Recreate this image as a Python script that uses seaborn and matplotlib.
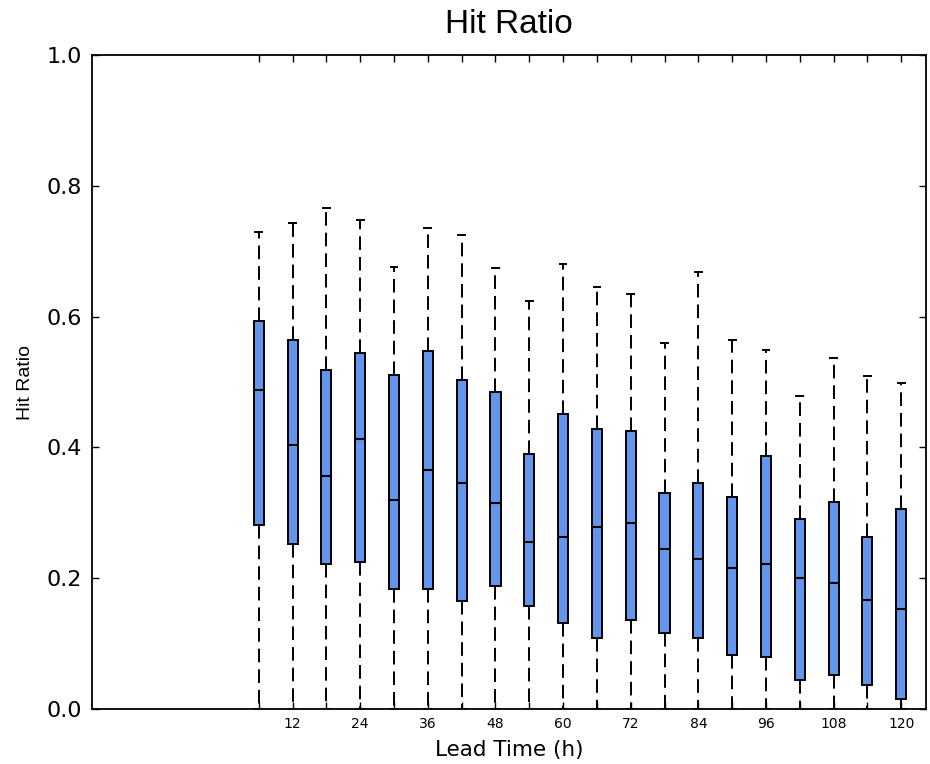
import pandas as pd
import seaborn as sns
import matplotlib.pyplot as plt

# values
lead_time = [6, 12, 18, 24, 30, 36, 42, 48, 54, 60, 66, 72, 78, 84, 90, 96, 102, 108, 114, 120]
whisker_hi = [0.729, 0.743, 0.766, 0.747, 0.676, 0.736, 0.725, 0.675, 0.624, 0.680,
              0.646, 0.635, 0.560, 0.668, 0.564, 0.549, 0.479, 0.536, 0.509, 0.499]
q3 = [0.593, 0.564, 0.518, 0.545, 0.511, 0.548, 0.503, 0.484, 0.390, 0.451,
      0.428, 0.425, 0.330, 0.346, 0.324, 0.387, 0.290, 0.317, 0.263, 0.306]
median = [0.488, 0.403, 0.357, 0.413, 0.320, 0.365, 0.346, 0.315, 0.255, 0.263,
          0.279, 0.285, 0.244, 0.229, 0.215, 0.222, 0.200, 0.193, 0.166, 0.153]
q1 = [0.282, 0.252, 0.222, 0.225, 0.184, 0.184, 0.165, 0.188, 0.157, 0.131,
      0.109, 0.136, 0.116, 0.109, 0.082, 0.079, 0.045, 0.052, 0.037, 0.015]
whisker_lo = [0.0] * 20

# five points per lead time give exactly these quartiles / whisker ends
rows = []
for i, lt in enumerate(lead_time):
    for v in (whisker_lo[i], q1[i], median[i], q3[i], whisker_hi[i]):
        rows.append({"lead": lt, "hit": v})
df = pd.DataFrame(rows)

plt.rcParams["font.family"] = "DejaVu Sans"
plt.rcParams["axes.linewidth"] = 1.3

fig = plt.figure(figsize=(9.3, 7.64), dpi=100)
ax = fig.add_axes([0.0989, 0.072, 0.8968, 0.856])

sns.boxplot(data=df, x="lead", y="hit", native_scale=True, whis=(0, 100),
            width=0.3, color="#6495ED", saturation=1, linecolor="black",
            linewidth=1.4, fliersize=0, capwidths=1.2,
            whiskerprops=dict(linestyle=(0, (7, 3.6))),
            medianprops=dict(linewidth=1.5), ax=ax)

ax.set_xlim(-23.6, 124.4)
ax.set_ylim(0, 1.0)
ax.set_xticks(lead_time)
ax.set_xticklabels([str(v) if v % 12 == 0 else "" for v in lead_time])
ax.set_yticks([0.0, 0.2, 0.4, 0.6, 0.8, 1.0])
ax.set_yticklabels(["0.0", "0.2", "0.4", "0.6", "0.8", "1.0"])
ax.tick_params(axis="both", direction="in", top=True, right=True, length=5, width=1)
ax.tick_params(axis="x", labelsize=10, pad=6)
ax.tick_params(axis="y", labelsize=16, pad=7)

ax.set_xlabel("Lead Time (h)", fontsize=15.5, labelpad=6)
ax.set_ylabel("Hit Ratio", fontsize=14, family="Liberation Sans", labelpad=9)
ax.set_title("Hit Ratio", fontsize=24, family="Liberation Sans", pad=16)

fig.savefig("out.png", dpi=100)
